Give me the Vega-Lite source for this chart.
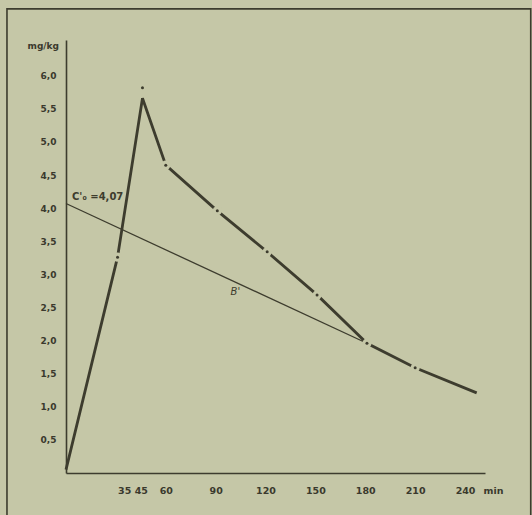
{
  "$schema": "https://vega.github.io/schema/vega-lite/v6.json",
  "width": 419,
  "height": 433,
  "autosize": {"type": "none"},
  "padding": {"left": 66, "top": 40, "right": 47, "bottom": 42},
  "background": "#c5c7a7",
  "config": {
    "view": {"stroke": null},
    "axis": {"labelOverlap": false},
    "locale": {"number": {"decimal": ",", "thousands": ".", "grouping": [3], "currency": ["", " €"]}}
  },
  "datasets": {
    "curve": [
      {"t": 0, "c": 0.05, "dot": 0.05, "gap": false},
      {"t": 31, "c": 3.26, "dot": 3.26, "gap": true},
      {"t": 46, "c": 5.66, "dot": 5.82, "gap": false},
      {"t": 60, "c": 4.65, "dot": 4.65, "gap": true},
      {"t": 91, "c": 3.96, "dot": 3.96, "gap": true},
      {"t": 121, "c": 3.34, "dot": 3.34, "gap": true},
      {"t": 151, "c": 2.69, "dot": 2.69, "gap": true},
      {"t": 181, "c": 1.96, "dot": 1.96, "gap": true},
      {"t": 210, "c": 1.59, "dot": 1.59, "gap": true},
      {"t": 247, "c": 1.21, "dot": 1.21, "gap": false}
    ],
    "beta": [
      {"t": 0, "c": 4.07},
      {"t": 181, "c": 1.96}
    ],
    "frame": [
      {"t": -35.5, "t2": 279.5, "c": 7.01, "c2": -1}
    ]
  },
  "layer": [
    {
      "data": {"name": "frame"},
      "mark": {"type": "rect", "fill": null, "stroke": "#3d3c2e", "strokeWidth": 1.6, "clip": false},
      "encoding": {
        "x": {
          "field": "t", "type": "quantitative",
          "scale": {"domain": [0, 252], "nice": false},
          "axis": {
            "values": [35, 45, 60, 90, 120, 150, 180, 210, 240],
            "tickCount": 30,
            "ticks": false, "grid": false, "labelOverlap": false,
            "domainColor": "#3d3c2e", "domainWidth": 1.6,
            "labelFont": "DejaVu Sans", "labelFontWeight": "bold", "labelFontSize": 9.5,
            "labelColor": "#3a392d", "labelPadding": 12,
            "title": "min", "titleFont": "DejaVu Sans", "titleFontWeight": "bold", "titleFontSize": 9.5,
            "titleColor": "#3a392d", "titleX": 417, "titleY": 17, "titleAlign": "left", "titleBaseline": "middle"
          }
        },
        "x2": {"field": "t2"},
        "y": {
          "field": "c", "type": "quantitative",
          "scale": {"domain": [0, 6.54], "nice": false},
          "axis": {
            "values": [0.5, 1, 1.5, 2, 2.5, 3, 3.5, 4, 4.5, 5, 5.5, 6],
            "tickCount": 30,
            "format": ".1f",
            "ticks": false, "grid": false, "labelOverlap": false,
            "domainColor": "#3d3c2e", "domainWidth": 1.6,
            "labelFont": "DejaVu Sans", "labelFontWeight": "bold", "labelFontSize": 9,
            "labelColor": "#3a392d", "labelPadding": 10,
            "title": "mg/kg", "titleFont": "DejaVu Sans", "titleFontWeight": "bold", "titleFontSize": 9,
            "titleColor": "#3a392d", "titleAngle": 0, "titleX": -39, "titleY": 5,
            "titleAlign": "left", "titleBaseline": "middle"
          }
        },
        "y2": {"field": "c2"}
      }
    },
    {
      "data": {"name": "beta"},
      "mark": {"type": "line", "color": "#3d3c2e", "strokeWidth": 1.3},
      "encoding": {
        "x": {"field": "t", "type": "quantitative"},
        "y": {"field": "c", "type": "quantitative"}
      }
    },
    {
      "data": {"name": "curve"},
      "mark": {"type": "line", "color": "#3d3c2e", "strokeWidth": 2.8},
      "encoding": {
        "x": {"field": "t", "type": "quantitative"},
        "y": {"field": "c", "type": "quantitative"}
      }
    },
    {
      "data": {"name": "curve"},
      "transform": [{"filter": "datum.gap"}],
      "mark": {"type": "point", "shape": "circle", "filled": true, "color": "#c5c7a7", "size": 85, "opacity": 1},
      "encoding": {
        "x": {"field": "t", "type": "quantitative"},
        "y": {"field": "c", "type": "quantitative"}
      }
    },
    {
      "data": {"name": "curve"},
      "transform": [{"filter": "datum.gap || datum.t == 46"}],
      "mark": {"type": "point", "shape": "circle", "filled": true, "color": "#3d3c2e", "size": 9, "opacity": 1},
      "encoding": {
        "x": {"field": "t", "type": "quantitative"},
        "y": {"field": "dot", "type": "quantitative"}
      }
    },
    {
      "data": {"values": [{"t": 3.6, "c": 4.17, "txt": "C'₀ =4,07"}]},
      "mark": {"type": "text", "align": "left", "baseline": "middle", "font": "DejaVu Sans", "fontSize": 10, "fontWeight": "bold", "color": "#3d3c2e"},
      "encoding": {
        "x": {"field": "t", "type": "quantitative"},
        "y": {"field": "c", "type": "quantitative"},
        "text": {"field": "txt"}
      }
    },
    {
      "data": {"values": [{"t": 99, "c": 2.73, "txt": "B'"}]},
      "mark": {"type": "text", "align": "left", "baseline": "middle", "font": "DejaVu Sans", "fontSize": 10, "fontStyle": "italic", "color": "#3d3c2e"},
      "encoding": {
        "x": {"field": "t", "type": "quantitative"},
        "y": {"field": "c", "type": "quantitative"},
        "text": {"field": "txt"}
      }
    }
  ]
}
